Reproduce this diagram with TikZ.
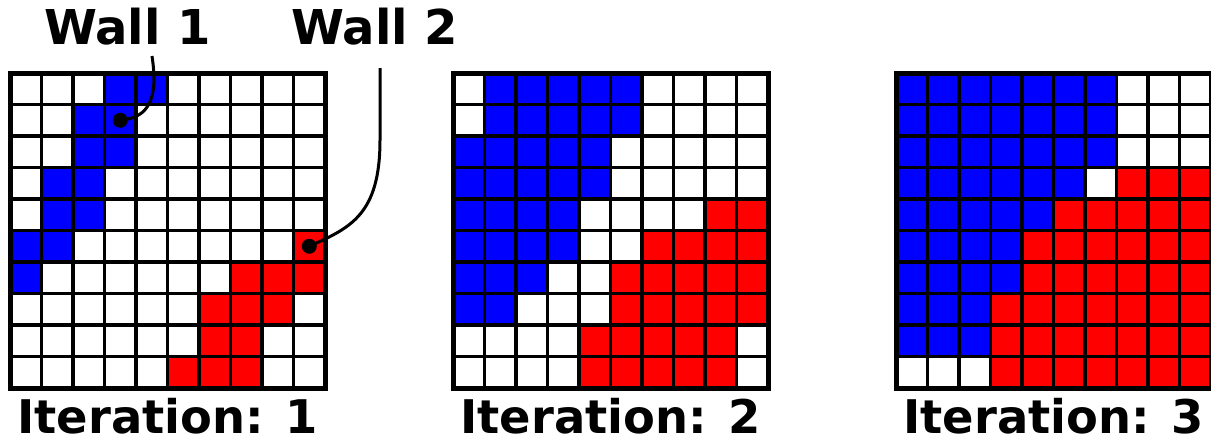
\documentclass[tikz,border=0pt]{standalone}
\usepackage{fontspec}
\setmainfont{DejaVu Sans}
\usetikzlibrary{positioning}
\colorlet{cellB}{blue}
\colorlet{cellR}{red}
\colorlet{cellW}{white}
% one 10x10 grid, rows given top to bottom
\newcommand\itergrid[2]{%
  \foreach \row [count=\r from 0] in {#2} {
    \foreach \c [count=\k from 0] in \row {
      \draw[cell, fill=cell\c] (#1+\k*31.5, 73+\r*31.5) rectangle ++(31.5,31.5);
    }
  }%
  \draw[frame] (#1,73) rectangle ++(315,315);
}

\begin{document}
\begin{tikzpicture}[x=0.5pt, y=-0.5pt,
    cell/.style={draw=black, line width=1.6pt},
    frame/.style={draw=black, line width=2.5pt},
    heading/.style={font=\fontsize{24}{24}\selectfont\bfseries, inner sep=0pt, anchor=base},
    caption/.style={heading, font=\fontsize{23.2}{24}\selectfont\bfseries},
    leader/.style={line width=1.5pt}]
  \useasboundingbox (0,0) rectangle (1211,441);
  % iteration 1
  \itergrid{10}{{W,W,W,B,B,W,W,W,W,W},{W,W,B,B,W,W,W,W,W,W},{W,W,B,B,W,W,W,W,W,W},
    {W,B,B,W,W,W,W,W,W,W},{W,B,B,W,W,W,W,W,W,W},{B,B,W,W,W,W,W,W,W,R},
    {B,W,W,W,W,W,W,R,R,R},{W,W,W,W,W,W,R,R,R,W},{W,W,W,W,W,W,R,R,W,W},
    {W,W,W,W,W,R,R,R,W,W}}
  % iteration 2
  \itergrid{453}{{W,B,B,B,B,B,W,W,W,W},{W,B,B,B,B,B,W,W,W,W},{B,B,B,B,B,W,W,W,W,W},
    {B,B,B,B,B,W,W,W,W,W},{B,B,B,B,W,W,W,W,R,R},{B,B,B,B,W,W,R,R,R,R},
    {B,B,B,W,W,R,R,R,R,R},{B,B,W,W,W,R,R,R,R,R},{W,W,W,W,R,R,R,R,R,W},
    {W,W,W,W,R,R,R,R,R,W}}
  % iteration 3
  \itergrid{896}{{B,B,B,B,B,B,B,W,W,W},{B,B,B,B,B,B,B,W,W,W},{B,B,B,B,B,B,B,W,W,W},
    {B,B,B,B,B,B,W,R,R,R},{B,B,B,B,B,R,R,R,R,R},{B,B,B,B,R,R,R,R,R,R},
    {B,B,B,B,R,R,R,R,R,R},{B,B,B,R,R,R,R,R,R,R},{B,B,B,R,R,R,R,R,R,R},
    {W,W,W,R,R,R,R,R,R,R}}

  % captions
  \node[caption] (iter1) at (167.5,433) {Iteration: 1};
  \node[caption] (iter2) at (610.5,433) {Iteration: 2};
  \node[caption] (iter3) at (1053.5,433) {Iteration: 3};

  % walls
  \node[heading] (wall1) at (127.5,44) {Wall 1};
  \node[heading] (wall2) at (375,44) {Wall 2};
  \coordinate (w1foot) at (152,56);
  \coordinate (w1dot) at (120.25,120.25);
  \coordinate (w2foot) at (380,68);
  \coordinate (w2dot) at (309.25,246.25);
  \draw[leader] (w1foot) .. controls (160,108) and (142,118) .. (w1dot);
  \draw[leader] (w2foot) -- (380,140) .. controls (380,215) and (350,228) .. (w2dot);
  \fill (w1dot) circle[radius=3.75pt];
  \fill (w2dot) circle[radius=3.75pt];
\end{tikzpicture}
\end{document}
